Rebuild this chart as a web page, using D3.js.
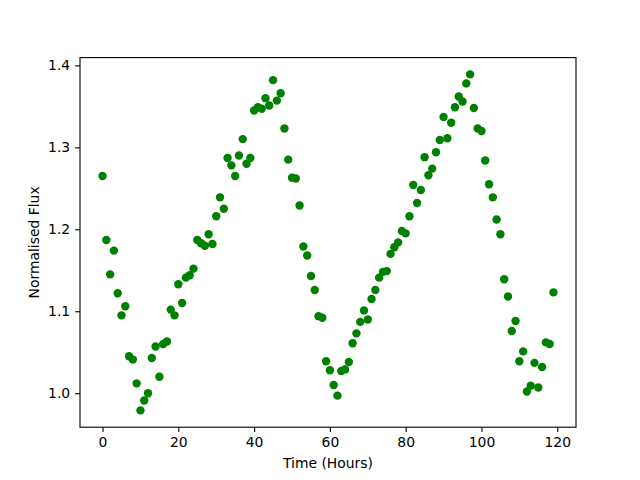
<!DOCTYPE html>
<html>
<head>
<meta charset="utf-8">
<script src="https://cdn.jsdelivr.net/npm/d3@7"></script>
<style>
  body { margin: 0; background: #fff; }
  svg text { font-family: "DejaVu Sans", sans-serif; }
</style>
</head>
<body>
<div id="chart"></div>
<script>
// hourly samples
const hours = d3.range(0, 120);
const flux = [
  1.265, 1.187, 1.145, 1.174, 1.122, 1.095, 1.106, 1.045, 1.041, 1.012,
  0.979, 0.991, 1.000, 1.043, 1.057, 1.020, 1.060, 1.063, 1.102, 1.095,
  1.133, 1.110, 1.141, 1.144, 1.152, 1.187, 1.183, 1.180, 1.194, 1.182,
  1.216, 1.239, 1.225, 1.287, 1.278, 1.265, 1.290, 1.310, 1.280, 1.287,
  1.345, 1.349, 1.347, 1.360, 1.351, 1.382, 1.357, 1.366, 1.323, 1.285,
  1.263, 1.262, 1.229, 1.179, 1.168, 1.143, 1.126, 1.094, 1.092, 1.039,
  1.028, 1.010, 0.997, 1.027, 1.029, 1.038, 1.061, 1.073, 1.087, 1.101,
  1.090, 1.115, 1.126, 1.141, 1.148, 1.149, 1.170, 1.178, 1.184, 1.198,
  1.195, 1.216, 1.254, 1.232, 1.248, 1.288, 1.266, 1.274, 1.294, 1.309,
  1.337, 1.311, 1.330, 1.349, 1.362, 1.356, 1.378, 1.389, 1.348, 1.323,
  1.320, 1.284, 1.255, 1.239, 1.212, 1.194, 1.139, 1.118, 1.076, 1.088,
  1.039, 1.051, 1.002, 1.009, 1.037, 1.007, 1.032, 1.062, 1.060, 1.123
];
const xTicks = [0, 20, 40, 60, 80, 100, 120];
const yTicks = [1.0, 1.1, 1.2, 1.3, 1.4];

const width = 640, height = 480;
const margin = { top: 57.6, right: 64, bottom: 52.8, left: 80 };
const innerW = width - margin.left - margin.right;
const innerH = height - margin.top - margin.bottom;

// matplotlib style 5% padding
function padded(ext) {
  const p = (ext[1] - ext[0]) * 0.05;
  return [ext[0] - p, ext[1] + p];
}

const x = d3.scaleLinear().domain(padded(d3.extent(hours))).range([0, innerW]);
const y = d3.scaleLinear().domain(padded(d3.extent(flux))).range([innerH, 0]);

const svg = d3.select('#chart').append('svg')
  .attr('width', width)
  .attr('height', height);

const g = svg.append('g')
  .attr('transform', `translate(${margin.left},${margin.top})`);

// points
g.selectAll('circle')
  .data(hours)
  .enter().append('circle')
  .attr('cx', d => x(d))
  .attr('cy', (d, i) => y(flux[i]))
  .attr('r', 4.2)
  .attr('fill', '#008000');

// axes
const xAxis = d3.axisBottom(x).tickValues(xTicks).tickFormat(d3.format('d'))
  .tickSizeInner(4.9).tickSizeOuter(0).tickPadding(4.9);
const yAxis = d3.axisLeft(y).tickValues(yTicks).tickFormat(d3.format('.1f'))
  .tickSizeInner(4.9).tickSizeOuter(0).tickPadding(4.9);

g.append('g')
  .attr('transform', `translate(0,${innerH})`)
  .call(xAxis);
g.append('g').call(yAxis);

g.selectAll('.domain').remove();
g.selectAll('.tick line').attr('stroke', '#000').attr('stroke-width', 1.1);
g.selectAll('.tick text').attr('fill', '#000').style('font-size', '13.9px')
  .style('font-family', '"DejaVu Sans", sans-serif');

// frame
g.append('rect')
  .attr('width', innerW)
  .attr('height', innerH)
  .attr('fill', 'none')
  .attr('stroke', '#000')
  .attr('stroke-width', 1.1);

// labels
svg.append('text')
  .attr('x', margin.left + innerW / 2)
  .attr('y', 468)
  .attr('text-anchor', 'middle')
  .style('font-size', '13.9px')
  .text('Time (Hours)');

svg.append('text')
  .attr('transform', `translate(39,${margin.top + innerH / 2}) rotate(-90)`)
  .attr('text-anchor', 'middle')
  .style('font-size', '13.9px')
  .text('Normalised Flux');
</script>
</body>
</html>
